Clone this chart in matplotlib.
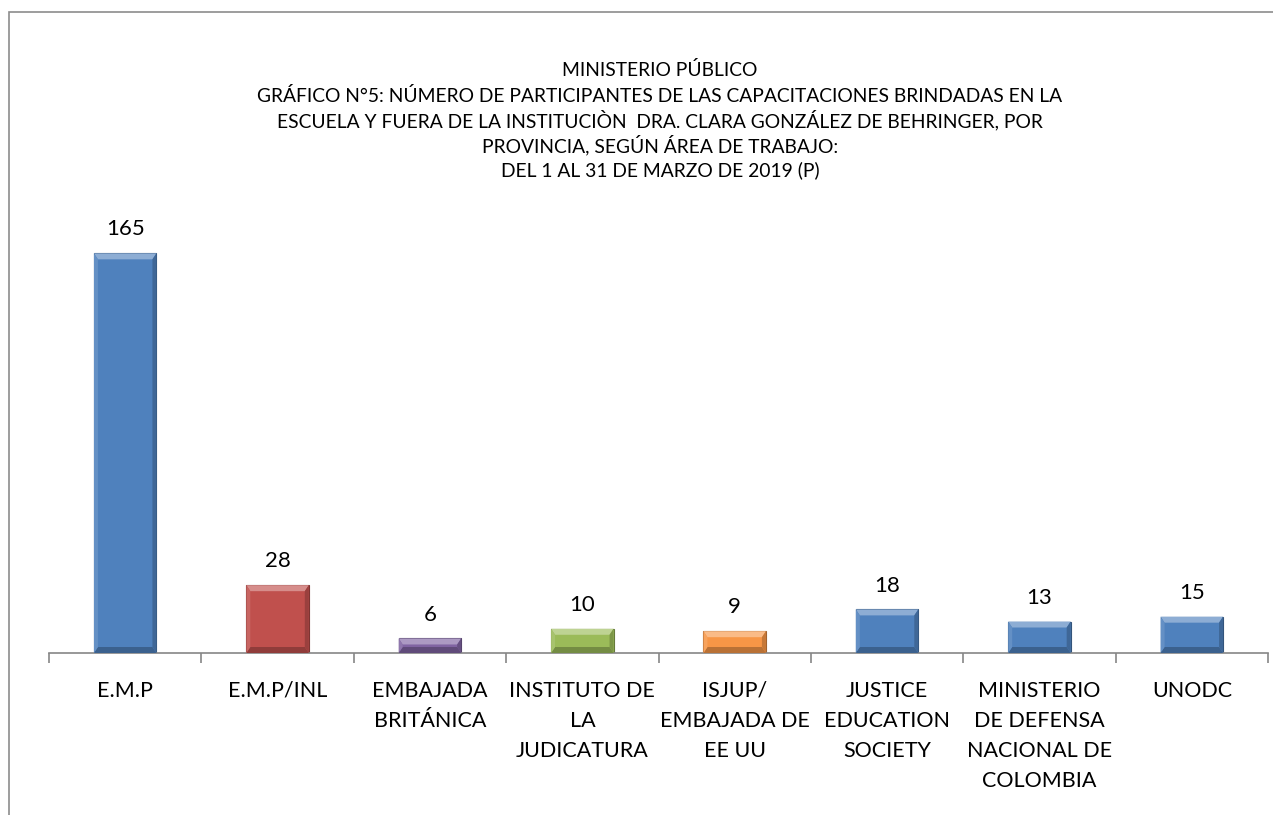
import matplotlib
matplotlib.use("Agg")
import matplotlib.pyplot as plt
from matplotlib.patches import Polygon, Rectangle
from matplotlib.colors import to_rgb

categorias = ["E.M.P", "E.M.P/INL", "EMBAJADA\nBRITÁNICA", "INSTITUTO DE\nLA\nJUDICATURA",
              "ISJUP/\nEMBAJADA DE\nEE UU", "JUSTICE\nEDUCATION\nSOCIETY",
              "MINISTERIO\nDE DEFENSA\nNACIONAL DE\nCOLOMBIA", "UNODC"]
participantes = [165, 28, 6, 10, 9, 18, 13, 15]
colores = ["#4F81BD", "#C0504D", "#8064A2", "#9BBB59", "#F79646", "#4F81BD", "#4F81BD", "#4F81BD"]

titulo = ["MINISTERIO PÚBLICO",
          "GRÁFICO N°5: NÚMERO DE PARTICIPANTES DE LAS CAPACITACIONES BRINDADAS EN LA",
          "ESCUELA Y FUERA DE LA INSTITUCIÒN  DRA. CLARA GONZÁLEZ DE BEHRINGER, POR",
          "PROVINCIA, SEGÚN ÁREA DE TRABAJO:",
          "DEL 1 AL 31 DE MARZO DE 2019 (P)"]

plt.rcParams["font.family"] = ["Lato", "DejaVu Sans"]

W, H = 1273, 815
fig = plt.figure(figsize=(W / 100, H / 100), dpi=100)
fig.patches.append(Rectangle((9 / W, -0.1), 1.2, 1.1 - 12 / H, transform=fig.transFigure,
                             fill=False, edgecolor="#8c8c8c", linewidth=1.2))

ax = fig.add_axes([49 / W, 1 - 653 / H, (1268 - 49) / W, (653 - 217) / H])
x = list(range(len(categorias)))
ax.set_xlim(-0.5, len(categorias) - 0.5)
ax.set_ylim(0, 180)

barras = ax.bar(x, participantes, width=0.41, color=colores, zorder=2)

# efecto biselado
px_x = (len(categorias)) / (1268 - 49)
px_y = 180 / (653 - 217)
def mezcla(c, f, base):
    r = to_rgb(c)
    return tuple(v + (base - v) * f for v in r)

for b, c in zip(barras, colores):
    x0, w, h = b.get_x(), b.get_width(), b.get_height()
    x1 = x0 + w
    bx, by = 4 * px_x, 6 * px_y
    b.set_edgecolor(mezcla(c, 0.35, 0.0))
    b.set_linewidth(0.8)
    ax.add_patch(Polygon([(x0, h), (x1, h), (x1 - bx, h - by), (x0 + bx, h - by)],
                         facecolor=mezcla(c, 0.35, 1.0), edgecolor="none", zorder=3))
    ax.add_patch(Polygon([(x0, 0), (x1, 0), (x1 - bx, by), (x0 + bx, by)],
                         facecolor=mezcla(c, 0.25, 0.0), edgecolor="none", zorder=3))
    ax.add_patch(Polygon([(x0, 0), (x0, h), (x0 + bx, h - by), (x0 + bx, by)],
                         facecolor=mezcla(c, 0.12, 1.0), edgecolor="none", zorder=3))
    ax.add_patch(Polygon([(x1, 0), (x1, h), (x1 - bx, h - by), (x1 - bx, by)],
                         facecolor=mezcla(c, 0.2, 0.0), edgecolor="none", zorder=3))
    ax.annotate(str(h), (b.get_x() + w / 2, h), xytext=(0, 10), textcoords="offset points",
                ha="center", va="bottom", fontsize=16)

for s in ["top", "right", "left"]:
    ax.spines[s].set_visible(False)
ax.spines["bottom"].set_color("#868686")
ax.spines["bottom"].set_linewidth(1.2)
ax.set_yticks([])
ax.set_xticks(x)
ax.set_xticklabels(categorias, fontsize=15.5, linespacing=1.62, va="top")
ax.tick_params(axis="x", which="major", length=0, pad=20)
ax.set_xticks([i - 0.5 for i in range(len(categorias) + 1)], minor=True)
ax.tick_params(axis="x", which="minor", length=7, color="#868686", width=1.2)

for linea, yb in zip(titulo, [76, 102, 127, 152, 176]):
    fig.text(660 / W, 1 - yb / H, linea, ha="center", va="baseline", fontsize=13.9)

fig.savefig("out.png", dpi=100)
